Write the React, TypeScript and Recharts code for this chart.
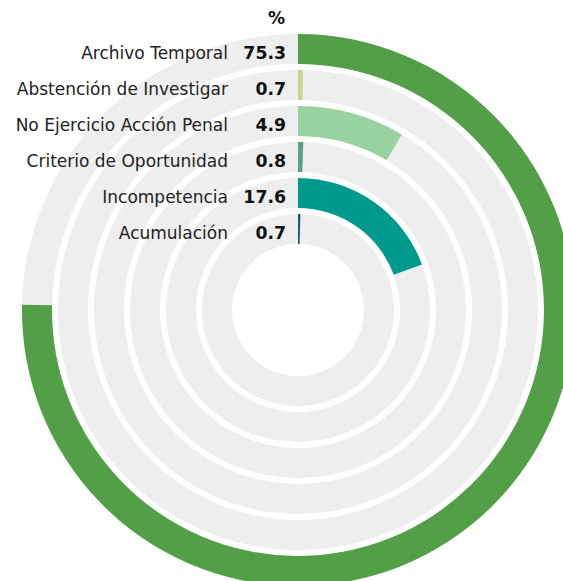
import React from 'react';
import {
  RadialBarChart,
  RadialBar,
  PolarAngleAxis,
  PolarRadiusAxis,
  Cell,
  Sector,
} from 'recharts';

// listed top (outer ring) to bottom (inner ring), as in the picture
const categories = [
  'Archivo Temporal',
  'Abstención de Investigar',
  'No Ejercicio Acción Penal',
  'Criterio de Oportunidad',
  'Incompetencia',
  'Acumulación',
];
// printed percentages
const shownValues = ['75.3', '0.7', '4.9', '0.8', '17.6', '0.7'];
// arc length of each bar, in % of the full circle, as drawn
const arcShares = [75.3, 0.33, 8.5, 0.5, 19.4, 0.4];
const colors = ['#529f47', '#c3d987', '#98d2a0', '#5a9e8b', '#00998e', '#1b5e6d'];

const NAME_FONT = '"DejaVu Sans", sans-serif';
const VALUE_FONT = '"DejaVu Sans", sans-serif';

// recharts puts the first category on the inner ring
const data = categories
  .map((name, i) => ({ name, shown: shownValues[i], arc: arcShares[i], color: colors[i] }))
  .reverse();

const RowLabel = (props: any) => {
  const { x, y, payload } = props;
  const row = data.find((d) => d.name === payload.value);
  return (
    <g>
      <text
        x={x - 70}
        y={y + 3.5}
        textAnchor="end"
        dominantBaseline="central"
        fontFamily={NAME_FONT}
        fontSize={17}
        fill="#222"
      >
        {payload.value}
      </text>
      <text
        x={x - 12}
        y={y + 3.5}
        textAnchor="end"
        dominantBaseline="central"
        fontFamily={VALUE_FONT}
        fontWeight={700}
        fontSize={17.3}
        fill="#111"
      >
        {row ? row.shown : ''}
      </text>
    </g>
  );
};

// grey track, a little wider than the bar towards the centre
const Track = (props: any) => (
  <Sector
    cx={props.cx}
    cy={props.cy}
    innerRadius={props.innerRadius - 3}
    outerRadius={props.outerRadius}
    startAngle={props.startAngle}
    endAngle={props.endAngle}
    fill="#f1f1f1"
  />
);

export default function App() {
  return (
    <div style={{ position: 'absolute', left: 0, top: 0, width: 563, height: 581, background: '#fff' }}>
      <div
        style={{
          position: 'absolute',
          left: 268,
          top: 8,
          fontFamily: VALUE_FONT,
          fontWeight: 700,
          fontSize: 17,
          color: '#111',
        }}
      >
        %
      </div>
      <RadialBarChart
        width={563}
        height={581}
        data={data}
        cx={298}
        cy={310}
        innerRadius={63}
        outerRadius={279}
        startAngle={90}
        endAngle={-270}
        barCategoryGap={3}
        margin={{ top: 0, right: 0, bottom: 0, left: 0 }}
      >
        <PolarAngleAxis type="number" domain={[0, 100]} tick={false} axisLine={false} />
        <RadialBar
          dataKey="arc"
          background={Track}
          isAnimationActive={false}
        >
          {data.map((d) => (
            <Cell key={d.name} fill={d.color} />
          ))}
        </RadialBar>
        <PolarRadiusAxis
          dataKey="name"
          type="category"
          angle={90}
          axisLine={false}
          tickLine={false}
          tick={<RowLabel />}
        />
      </RadialBarChart>
    </div>
  );
}
